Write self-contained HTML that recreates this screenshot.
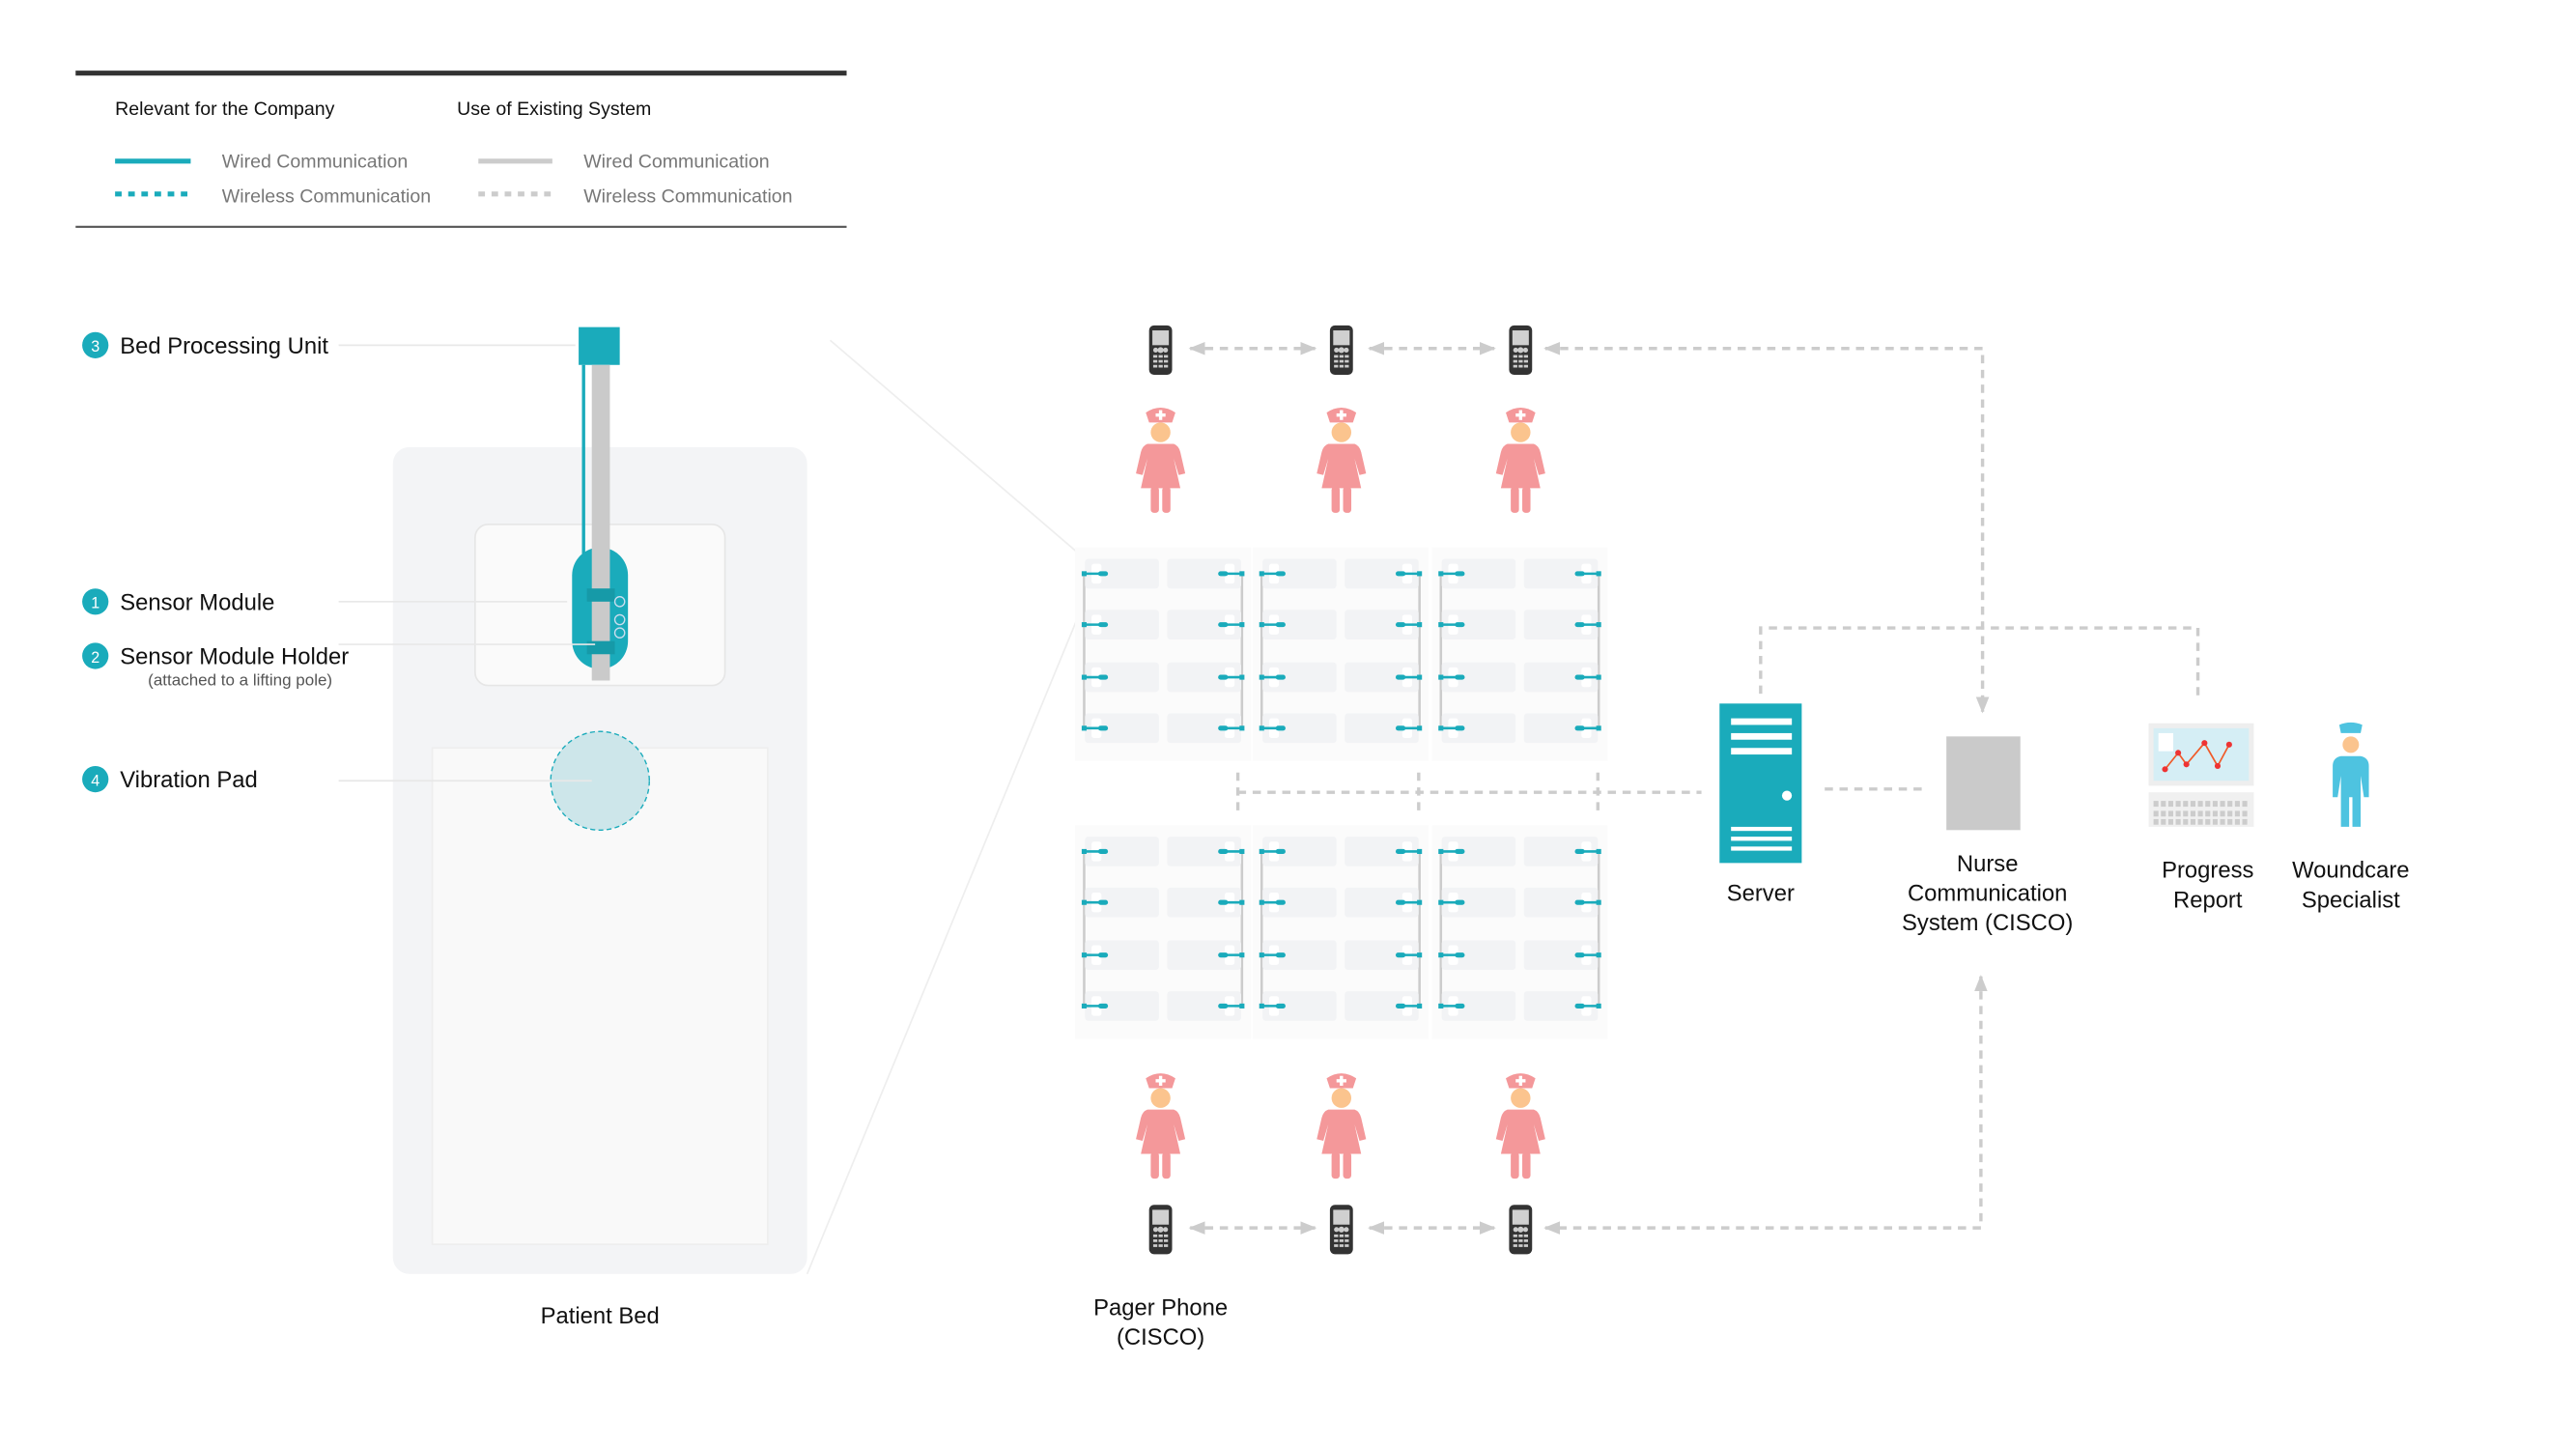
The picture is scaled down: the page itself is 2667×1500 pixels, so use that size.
<!DOCTYPE html>
<html><head><meta charset="utf-8"><style>
html,body{margin:0;padding:0;background:#fff;}
svg{display:block;}
text{font-family:"Liberation Sans Narrow","Liberation Sans",sans-serif;}
</style></head><body>
<svg width="2667" height="1500" viewBox="0 0 1567 881.5" preserveAspectRatio="none" xmlns="http://www.w3.org/2000/svg">
<defs>
<g id="nurse">
<path d="M-9,3 Q0,-3 9,3 L7,9 L-7,9Z" fill="#f4989a"/>
<rect x="-1" y="1.5" width="2" height="6" fill="#fff"/><rect x="-3" y="3.5" width="6" height="2" fill="#fff"/>
<circle cx="0" cy="15" r="6" fill="#fbc48e"/>
<path d="M-8,22 L8,22 Q11,23 12,27 L15,40 L11,41 L8,31 L12,49 L-12,49 L-8,31 L-11,41 L-15,40 L-12,27 Q-11,23 -8,22Z" fill="#f4989a"/>
<rect x="-6" y="48" width="5" height="16" rx="2" fill="#f4989a"/><rect x="1" y="48" width="5" height="16" rx="2" fill="#f4989a"/>
</g>
<g id="phone">
<rect x="-7" y="0" width="14" height="30" rx="3" fill="#333"/>
<rect x="-5" y="3" width="10" height="9" fill="#d0d0d0"/>
<g fill="#ccc"><circle cx="-3" cy="15" r="1.5"/><circle cx="0" cy="15" r="1.8"/><circle cx="3" cy="15" r="1.5"/>
<rect x="-4.5" y="18" width="2.5" height="1.6"/><rect x="-1.2" y="18" width="2.5" height="1.6"/><rect x="2" y="18" width="2.5" height="1.6"/>
<rect x="-4.5" y="21" width="2.5" height="1.6"/><rect x="-1.2" y="21" width="2.5" height="1.6"/><rect x="2" y="21" width="2.5" height="1.6"/>
<rect x="-4.5" y="24" width="2.5" height="1.6"/><rect x="-1.2" y="24" width="2.5" height="1.6"/><rect x="2" y="24" width="2.5" height="1.6"/></g>
</g>
<g id="row">
<rect x="0" y="-9" width="45" height="18" rx="2" fill="#f2f3f5"/>
<rect x="50" y="-9" width="45" height="18" rx="2" fill="#f2f3f5"/>
<rect x="4" y="-6" width="6" height="12" rx="1.5" fill="#fff"/>
<rect x="85" y="-6" width="6" height="12" rx="1.5" fill="#fff"/>
<line x1="-1" y1="0" x2="13" y2="0" stroke="#1aabbb" stroke-width="1.5"/>
<rect x="-2" y="-1.5" width="3" height="3" fill="#1aabbb"/><rect x="8" y="-1.5" width="6" height="3" rx="1.5" fill="#1aabbb"/>
<line x1="82" y1="0" x2="96" y2="0" stroke="#1aabbb" stroke-width="1.5"/>
<rect x="94" y="-1.5" width="3" height="3" fill="#1aabbb"/><rect x="81" y="-1.5" width="6" height="3" rx="1.5" fill="#1aabbb"/>
</g>
<g id="col">
<rect x="-6" y="-16" width="107" height="130" fill="#fbfbfb"/>
<line x1="-0.5" y1="0" x2="-0.5" y2="94" stroke="#ccc" stroke-width="1.5"/>
<line x1="95.5" y1="0" x2="95.5" y2="94" stroke="#ccc" stroke-width="1.5"/>
<use href="#row" y="0"/><use href="#row" y="31"/><use href="#row" y="63"/><use href="#row" y="94"/>
</g>
<marker id="ah" viewBox="0 0 10 10" refX="9" refY="5" markerWidth="5" markerHeight="5" orient="auto-start-reverse"><path d="M0,1 L10,5 L0,9Z" fill="#ccc"/></marker>
</defs>

<!-- legend -->
<line x1="46" y1="44.5" x2="515" y2="44.5" stroke="#333" stroke-width="3"/>
<line x1="46" y1="138" x2="515" y2="138" stroke="#555" stroke-width="1.2"/>
<text x="70" y="70" font-size="11.5" fill="#111">Relevant for the Company</text>
<text x="278" y="70" font-size="11.5" fill="#111">Use of Existing System</text>
<line x1="70" y1="98" x2="116" y2="98" stroke="#1aabbb" stroke-width="3"/>
<line x1="70" y1="118" x2="116" y2="118" stroke="#1aabbb" stroke-width="3" stroke-dasharray="4,4"/>
<line x1="291" y1="98" x2="336" y2="98" stroke="#ccc" stroke-width="3"/>
<line x1="291" y1="118" x2="336" y2="118" stroke="#ccc" stroke-width="3" stroke-dasharray="4,4"/>
<g font-size="11.5" fill="#777"><text x="135" y="102">Wired Communication</text><text x="135" y="123">Wireless Communication</text>
<text x="355" y="102">Wired Communication</text><text x="355" y="123">Wireless Communication</text></g>

<!-- bed -->
<line x1="505" y1="207" x2="660" y2="340" stroke="#eee" stroke-width="1"/>
<line x1="491" y1="775" x2="660" y2="365" stroke="#eee" stroke-width="1"/>
<rect x="239" y="272" width="252" height="503" rx="10" fill="#f3f4f6"/>
<rect x="289" y="319" width="152" height="98" rx="8" fill="#fafafa" stroke="#e6e6e6"/>
<rect x="263" y="455" width="204" height="302" fill="#f9f9f9" stroke="#eee"/>
<circle cx="365" cy="475" r="30" fill="#cde6ea" stroke="#1aabbb" stroke-width="0.8" stroke-dasharray="3,2"/>
<rect x="352" y="199" width="25" height="23" fill="#1aabbb"/>
<line x1="355" y1="222" x2="355" y2="370" stroke="#1aabbb" stroke-width="2"/>
<rect x="348" y="333" width="34" height="74" rx="17" fill="#1aabbb"/>
<rect x="360" y="222" width="11" height="192" fill="#cacaca"/>
<rect x="357" y="358" width="17" height="8" fill="#169aa8"/><rect x="357" y="390" width="17" height="8" fill="#169aa8"/>
<g fill="none" stroke="#cde" stroke-width="0.8"><circle cx="377" cy="366" r="3"/><circle cx="377" cy="377" r="3"/><circle cx="377" cy="385" r="3"/></g>
<g stroke="#e8e8e8" stroke-width="1"><line x1="206" y1="210" x2="350" y2="210"/><line x1="206" y1="366" x2="345" y2="366"/><line x1="206" y1="392" x2="362" y2="392"/><line x1="206" y1="475" x2="360" y2="475"/></g>
<g font-size="9.5" fill="#fff" text-anchor="middle">
<circle cx="58" cy="210" r="8" fill="#1aabbb"/><text x="58" y="214">3</text>
<circle cx="58" cy="366" r="8" fill="#1aabbb"/><text x="58" y="370">1</text>
<circle cx="58" cy="399" r="8" fill="#1aabbb"/><text x="58" y="403">2</text>
<circle cx="58" cy="474" r="8" fill="#1aabbb"/><text x="58" y="478">4</text></g>
<g font-size="14" fill="#111"><text x="73" y="215">Bed Processing Unit</text><text x="73" y="371">Sensor Module</text>
<text x="73" y="404">Sensor Module Holder</text><text x="73" y="479">Vibration Pad</text>
<text x="365" y="805" text-anchor="middle">Patient Bed</text></g>
<text x="90" y="417" font-size="10" fill="#555">(attached to a lifting pole)</text>

<!-- grid -->
<use href="#col" x="660" y="349"/><use href="#col" x="768" y="349"/><use href="#col" x="877" y="349"/>
<use href="#col" x="660" y="518"/><use href="#col" x="768" y="518"/><use href="#col" x="877" y="518"/>

<!-- dashed connections -->
<g stroke="#ccc" stroke-width="2" stroke-dasharray="5,4" fill="none">
<path d="M753,470 V497 M863,470 V497 M972,470 V497 M753,482 H1035"/>
<path d="M1110,480 H1172"/>
<path d="M1071,422 V382 H1337 V425"/>
<path d="M940,212 H1206 V433" marker-start="url(#ah)" marker-end="url(#ah)"/>
<path d="M1205,594 V747 H940" marker-start="url(#ah)" marker-end="url(#ah)"/>
<path d="M724,212 H800" marker-start="url(#ah)" marker-end="url(#ah)"/>
<path d="M833,212 H909" marker-start="url(#ah)" marker-end="url(#ah)"/>
<path d="M724,747 H800" marker-start="url(#ah)" marker-end="url(#ah)"/>
<path d="M833,747 H909" marker-start="url(#ah)" marker-end="url(#ah)"/>
</g>

<!-- phones & nurses -->
<use href="#phone" x="706" y="198"/><use href="#phone" x="816" y="198"/><use href="#phone" x="925" y="198"/>
<use href="#phone" x="706" y="733"/><use href="#phone" x="816" y="733"/><use href="#phone" x="925" y="733"/>
<use href="#nurse" x="706" y="248"/><use href="#nurse" x="816" y="248"/><use href="#nurse" x="925" y="248"/>
<use href="#nurse" x="706" y="653"/><use href="#nurse" x="816" y="653"/><use href="#nurse" x="925" y="653"/>
<g font-size="14" fill="#111" text-anchor="middle"><text x="706" y="800">Pager Phone</text><text x="706" y="818">(CISCO)</text></g>

<!-- server -->
<rect x="1046" y="428" width="50" height="97" fill="#1aabbb"/>
<g fill="#fff"><rect x="1053" y="437" width="37" height="4"/><rect x="1053" y="446" width="37" height="4"/><rect x="1053" y="455" width="37" height="4"/>
<rect x="1053" y="503" width="37" height="2.5"/><rect x="1053" y="509" width="37" height="2.5"/><rect x="1053" y="515" width="37" height="2.5"/>
<circle cx="1087" cy="484" r="3"/></g>
<rect x="1184" y="448" width="45" height="57" fill="#cacaca"/>
<!-- progress report -->
<rect x="1307" y="440" width="64" height="38" fill="#eee"/>
<rect x="1310" y="443" width="58" height="32" fill="#d5eef5"/>
<rect x="1313" y="446" width="9" height="11" fill="#fff"/>
<polyline points="1317,468 1325,458 1330,465 1341,452 1349,466 1356,453" fill="none" stroke="#f05a28" stroke-width="1"/>
<g fill="#e33"><circle cx="1317" cy="468" r="1.8"/><circle cx="1325" cy="458" r="1.8"/><circle cx="1330" cy="465" r="1.8"/><circle cx="1341" cy="452" r="1.8"/><circle cx="1349" cy="466" r="1.8"/><circle cx="1356" cy="453" r="1.8"/></g>
<rect x="1307" y="482" width="64" height="21" fill="#f0f0f0"/>
<g stroke="#ccc" stroke-width="3.5" stroke-dasharray="3,1.5"><line x1="1310" y1="489" x2="1368" y2="489"/><line x1="1310" y1="495" x2="1368" y2="495"/><line x1="1310" y1="500" x2="1368" y2="500"/></g>
<!-- woundcare -->
<g fill="#4ec3e0">
<path d="M1424,446 L1436,446 L1437,441 Q1430,438 1423,441Z"/>
<path d="M1424,460 L1436,460 Q1441,461 1441,466 L1441,485 L1438,485 L1436,472 L1436,503 L1431,503 L1431,485 L1429,485 L1429,503 L1424,503 L1424,472 L1422,485 L1419,485 L1419,466 Q1419,461 1424,460Z"/></g>
<circle cx="1430" cy="453" r="5" fill="#fbc48e"/>
<g font-size="14" fill="#111" text-anchor="middle">
<text x="1071" y="548">Server</text>
<text x="1209" y="530">Nurse</text><text x="1209" y="548">Communication</text><text x="1209" y="566">System (CISCO)</text>
<text x="1343" y="534">Progress</text><text x="1343" y="552">Report</text>
<text x="1430" y="534">Woundcare</text><text x="1430" y="552">Specialist</text></g>
</svg>
</body></html>
